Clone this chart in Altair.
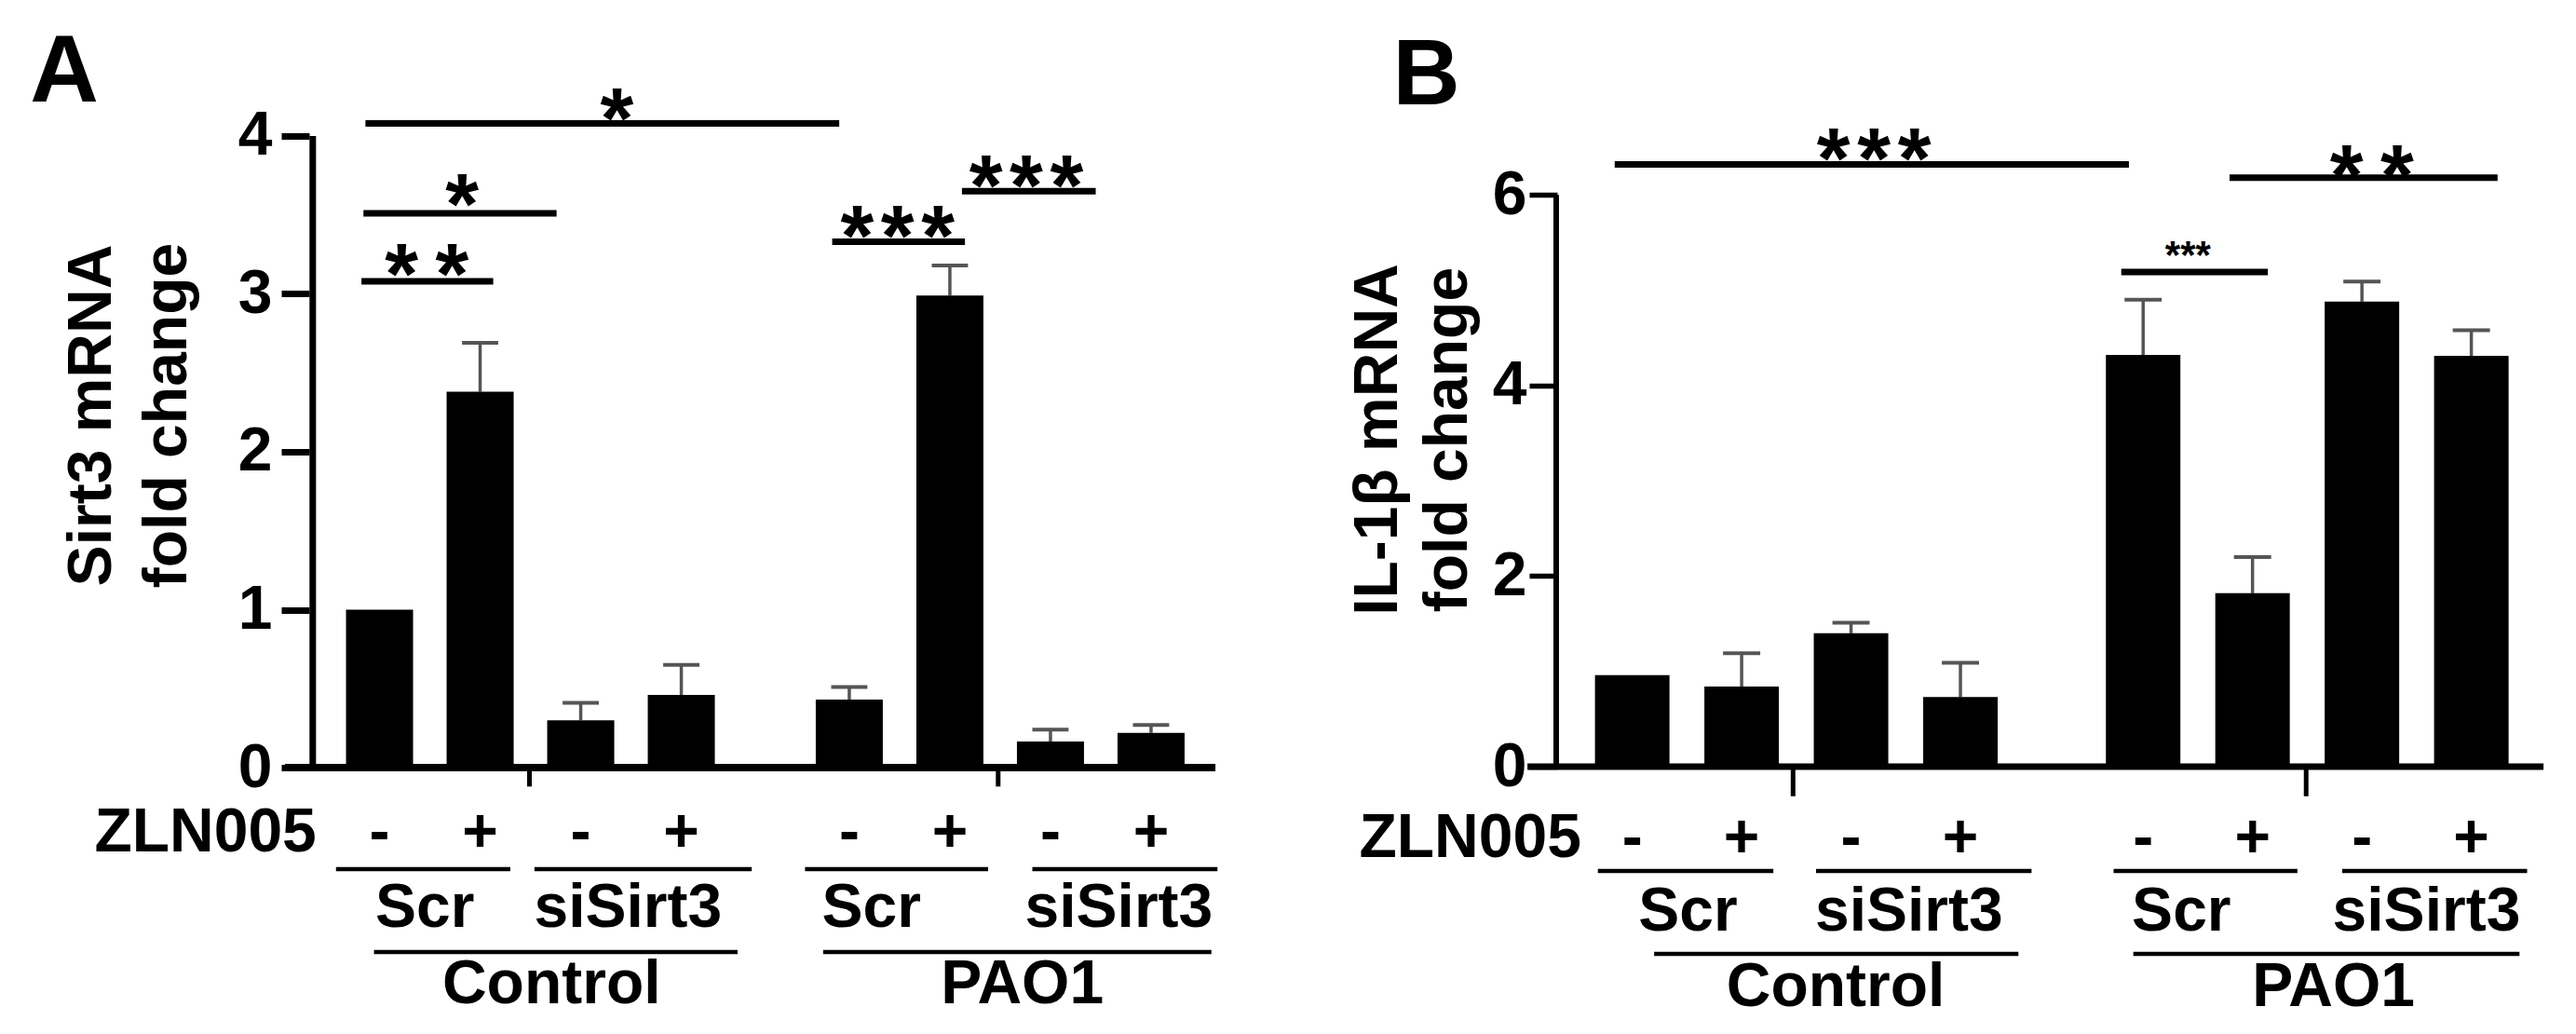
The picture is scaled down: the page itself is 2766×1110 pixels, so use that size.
import altair as alt
import pandas as pd

FONT = "Liberation Sans"

# ---------------- data ----------------
bar_pos = [1, 2, 3, 4, 5.67, 6.67, 7.67, 8.67]          # bar slots (gap between Control / PAO1)
zln005_signs = ["-", "+", "-", "+", "-", "+", "-", "+"]
sirna_labels = ["Scr", "siSirt3", "Scr", "siSirt3"]
infection_labels = ["Control", "PAO1"]

sirt3_mean = [1.00, 2.38, 0.30, 0.46, 0.43, 2.99, 0.165, 0.22]
sirt3_sem = [0.0, 0.31, 0.11, 0.19, 0.08, 0.19, 0.075, 0.05]
il1b_mean = [0.96, 0.84, 1.40, 0.73, 4.32, 1.82, 4.88, 4.31]
il1b_sem = [0.0, 0.35, 0.11, 0.36, 0.58, 0.38, 0.21, 0.27]

sirt3_ticks = [0, 1, 2, 3, 4]
il1b_ticks = [0, 2, 4, 6]

sirt3_title = ["Sirt3 mRNA", "fold change"]
il1b_title = ["IL-1\u03b2 mRNA", "fold change"]

HS = "\u200a"   # hair space between stars
TS = "\u2009"   # thin space between stars

# significance brackets (in bar-slot units / data units)
sirt3_sig_from = [0.86, 0.84, 0.82, 5.50, 6.79]
sirt3_sig_to = [5.57, 2.76, 2.13, 6.82, 8.12]
sirt3_sig_y = [4.08, 3.51, 3.08, 3.33, 3.65]
sirt3_sig_text = ["*", "*", "*" + TS + "*", HS.join("***"), HS.join("***")]
sirt3_sig_text_x = [3.36, 1.82, 1.47, 6.15, 7.43]
sirt3_sig_text_y = [4.23, 3.69, 3.25, 3.49, 3.81]
sirt3_sig_big = [True, True, True, True, True]

il1b_sig_from = [0.84, 6.46, 5.47]
il1b_sig_to = [5.54, 8.91, 6.81]
il1b_sig_y = [6.32, 6.18, 5.19]
il1b_sig_text = [HS.join("***"), "*" + TS + "*", "***"]
il1b_sig_text_x = [3.21, 7.76, 6.08]
il1b_sig_text_y = [6.58, 6.41, 5.46]
il1b_sig_big = [True, True, False]

# group label spans (bar-slot units)
sirt3_sirna_x = [1.45, 3.47, 5.89, 8.35]
sirt3_sirna_from = [0.567, 2.54, 5.23, 7.49]
sirt3_sirna_to = [2.30, 4.70, 7.05, 9.33]
sirt3_inf_x = [2.71, 7.39]
sirt3_inf_from = [0.945, 5.41]
sirt3_inf_to = [4.56, 9.27]

il1b_sirna_x = [1.51, 3.53, 6.02, 8.26]
il1b_sirna_from = [0.686, 2.68, 5.40, 7.49]
il1b_sirna_to = [2.29, 4.65, 7.08, 9.18]
il1b_inf_x = [2.86, 7.41]
il1b_inf_from = [1.20, 5.58]
il1b_inf_to = [4.53, 9.11]

W, H = 2750, 1094

panels = [
    dict(
        letter="A", mean=sirt3_mean, sem=sirt3_sem, ticks=sirt3_ticks, title=sirt3_title,
        sig_from=sirt3_sig_from, sig_to=sirt3_sig_to, sig_y=sirt3_sig_y, sig_text=sirt3_sig_text,
        sig_tx=sirt3_sig_text_x, sig_ty=sirt3_sig_text_y, sig_big=sirt3_sig_big,
        sirna_x=sirt3_sirna_x, sirna_from=sirt3_sirna_from, sirna_to=sirt3_sirna_to,
        inf_x=sirt3_inf_x, inf_from=sirt3_inf_from, inf_to=sirt3_inf_to,
        xdom=[-2.653, 22.716], ydom=[-1.640, 4.814],
        axis_x=0.336, axis_top=4, xaxis_from=0.06, xaxis_to=9.31,
        divider_x=[2.49, 7.15], divider_to=-0.12,
        row_sign=-0.531, row_sirna=-1.009, row_inf=-1.493, uline1=-0.643, uline2=-1.168,
        zln_x=0.373, letter_xy=(-2.475, 4.218), letter_size=102,
        title_xy=(-1.673, 2.230), title_lh=81,
        bar_size=72, cap_half=0.18, tick_w=7, label_pad=10, offset=-324,
        yline_w=7, xline_w=8,
    ),
    dict(
        letter="B", mean=il1b_mean, sem=il1b_sem, ticks=il1b_ticks, title=il1b_title,
        sig_from=il1b_sig_from, sig_to=il1b_sig_to, sig_y=il1b_sig_y, sig_text=il1b_sig_text,
        sig_tx=il1b_sig_text_x, sig_ty=il1b_sig_text_y, sig_big=il1b_sig_big,
        sirna_x=il1b_sirna_x, sirna_from=il1b_sirna_from, sirna_to=il1b_sirna_to,
        inf_x=il1b_inf_x, inf_from=il1b_inf_from, inf_to=il1b_inf_to,
        xdom=[-13.809, 9.516], ydom=[-2.727, 7.967],
        axis_x=0.305, axis_top=6, xaxis_from=0.042, xaxis_to=9.33,
        divider_x=[2.47, 7.16], divider_to=-0.31,
        row_sign=-0.948, row_sirna=-1.720, row_inf=-2.512, uline1=-1.095, uline2=-1.965,
        zln_x=0.534, letter_xy=(-1.188, 6.95), letter_size=100,
        title_xy=(-1.153, 3.431), title_lh=75,
        bar_size=80, cap_half=0.17, tick_w=5.5, label_pad=3, offset=-1664,
        yline_w=6, xline_w=7,
    ),
]

STAR_BIG = 92
STAR_SMALL = 42
TXT = 66


def build_panel(p):
    xs = alt.Scale(domain=p["xdom"], nice=False, zero=False)
    ys = alt.Scale(domain=p["ydom"], nice=False, zero=False)
    yaxis = alt.Axis(
        orient="left", offset=p["offset"], values=p["ticks"], domain=False, grid=False,
        ticks=True, tickSize=30, tickWidth=p["tick_w"], tickColor="black",
        labelFont=FONT, labelFontSize=TXT, labelFontWeight="bold", labelColor="black",
        labelPadding=p["label_pad"], labelFlush=False, labelOverlap=False, title=None,
    )

    def X(f):
        return alt.X(f, type="quantitative", scale=xs, axis=None, title=None)

    def Y(f):
        return alt.Y(f, type="quantitative", scale=ys, axis=yaxis, title=None)

    bars = pd.DataFrame({
        "pos": bar_pos, "mean": p["mean"], "sem": p["sem"], "base": 0.0,
        "sign": zln005_signs,
    })
    bars["upper"] = bars["mean"] + bars["sem"]
    bars["cap_l"] = bars["pos"] - p["cap_half"]
    bars["cap_r"] = bars["pos"] + p["cap_half"]
    errs = bars[bars["sem"] > 0]

    sig = pd.DataFrame({
        "x0": p["sig_from"], "x1": p["sig_to"], "y": p["sig_y"],
        "t": p["sig_text"], "tx": p["sig_tx"], "ty": p["sig_ty"], "big": p["sig_big"],
    })

    ulines = pd.DataFrame({
        "x0": p["sirna_from"] + p["inf_from"],
        "x1": p["sirna_to"] + p["inf_to"],
        "y": [p["uline1"]] * 4 + [p["uline2"]] * 2,
    })
    labels = pd.DataFrame({
        "x": p["sirna_x"] + p["inf_x"],
        "y": [p["row_sirna"]] * 4 + [p["row_inf"]] * 2,
        "t": sirna_labels + infection_labels,
    })
    signs = pd.DataFrame({"x": bar_pos, "y": [p["row_sign"]] * 8, "t": zln005_signs})
    zln = pd.DataFrame({"x": [p["zln_x"]], "y": [p["row_sign"]], "t": ["ZLN005"]})
    letter = pd.DataFrame({"x": [p["letter_xy"][0]], "y": [p["letter_xy"][1]], "t": [p["letter"]]})
    ttl = pd.DataFrame({"x": [p["title_xy"][0]], "y": [p["title_xy"][1]]})

    yline = pd.DataFrame({"x": [p["axis_x"]], "y0": [0.0], "y1": [float(p["axis_top"])]})
    xline = pd.DataFrame({"x0": [p["xaxis_from"]], "x1": [p["xaxis_to"]], "y": [0.0]})
    divs = pd.DataFrame({"x": p["divider_x"], "y0": [0.0, 0.0], "y1": [p["divider_to"]] * 2})

    layers = []
    # axis lines
    layers.append(alt.Chart(yline).mark_rule(color="black", strokeWidth=p["yline_w"]).encode(
        x=X("x"), y=Y("y0"), y2=alt.Y2("y1")))
    layers.append(alt.Chart(divs).mark_rule(color="black", strokeWidth=5).encode(
        x=X("x"), y=Y("y0"), y2=alt.Y2("y1")))
    # error bars
    layers.append(alt.Chart(errs).mark_rule(color="#555555", strokeWidth=3.5).encode(
        x=X("pos"), y=Y("mean"), y2=alt.Y2("upper")))
    layers.append(alt.Chart(errs).mark_rule(color="#555555", strokeWidth=4).encode(
        x=X("cap_l"), x2=alt.X2("cap_r"), y=Y("upper")))
    # bars
    layers.append(alt.Chart(bars).mark_bar(color="black", size=p["bar_size"]).encode(
        x=X("pos"), y=Y("mean"), y2=alt.Y2("base")))
    layers.append(alt.Chart(xline).mark_rule(color="black", strokeWidth=p["xline_w"]).encode(
        x=X("x0"), x2=alt.X2("x1"), y=Y("y")))
    # significance
    layers.append(alt.Chart(sig).mark_rule(color="black", strokeWidth=7).encode(
        x=X("x0"), x2=alt.X2("x1"), y=Y("y")))
    big = sig[sig["big"]]
    small = sig[~sig["big"]]
    layers.append(alt.Chart(big).mark_text(
        font=FONT, fontSize=STAR_BIG, fontWeight="bold", color="black",
        align="center", baseline="alphabetic", dy=0.57 * STAR_BIG).encode(
        x=X("tx"), y=Y("ty"), text="t:N"))
    if len(small):
        layers.append(alt.Chart(small).mark_text(
            font=FONT, fontSize=STAR_SMALL, fontWeight="bold", color="black",
            align="center", baseline="alphabetic", dy=0.57 * STAR_SMALL).encode(
            x=X("tx"), y=Y("ty"), text="t:N"))
    # ZLN005 row
    layers.append(alt.Chart(signs).mark_text(
        font=FONT, fontSize=TXT, fontWeight="bold", color="black",
        align="center", baseline="alphabetic").encode(x=X("x"), y=Y("y"), text="t:N"))
    layers.append(alt.Chart(zln).mark_text(
        font=FONT, fontSize=TXT, fontWeight="bold", color="black",
        align="right", baseline="alphabetic").encode(x=X("x"), y=Y("y"), text="t:N"))
    # group underlines + labels
    layers.append(alt.Chart(ulines).mark_rule(color="black", strokeWidth=4.5).encode(
        x=X("x0"), x2=alt.X2("x1"), y=Y("y")))
    layers.append(alt.Chart(labels).mark_text(
        font=FONT, fontSize=TXT, fontWeight="bold", color="black",
        align="center", baseline="alphabetic").encode(x=X("x"), y=Y("y"), text="t:N"))
    # panel letter
    layers.append(alt.Chart(letter).mark_text(
        font=FONT, fontSize=p["letter_size"], fontWeight="bold", color="black",
        align="left", baseline="alphabetic").encode(x=X("x"), y=Y("y"), text="t:N"))
    # y title
    layers.append(alt.Chart(ttl).mark_text(
        text=p["title"], font=FONT, fontSize=TXT, fontWeight="bold", color="black",
        align="center", baseline="alphabetic", angle=270, lineHeight=p["title_lh"]).encode(
        x=X("x"), y=Y("y")))
    return alt.layer(*layers)


chart = (
    alt.layer(build_panel(panels[0]), build_panel(panels[1]))
    .resolve_scale(x="independent", y="independent")
    .properties(width=W, height=H, padding=0, autosize=alt.AutoSizeParams(type="none"),
                background="white")
    .configure_view(stroke=None)
)

chart.save("out.html", embed_options={"renderer": "svg", "actions": False})
